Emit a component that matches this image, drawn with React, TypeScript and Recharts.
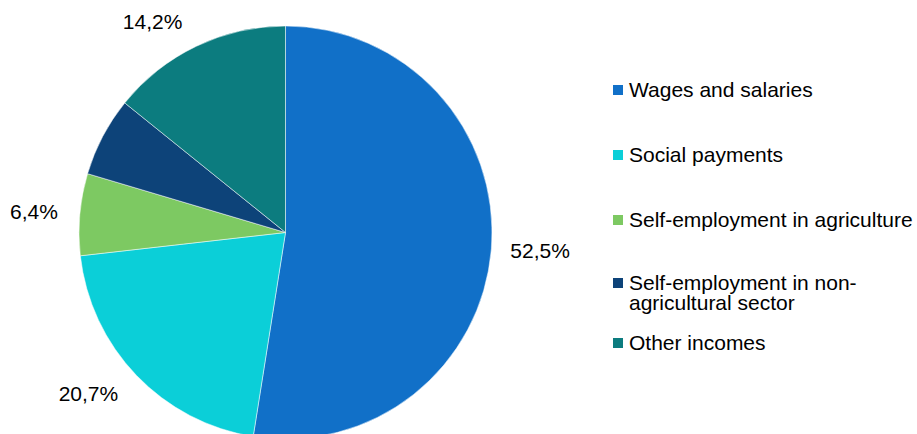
import { PieChart, Pie, Cell, Legend } from "recharts";

const categories = [
  "Wages and salaries",
  "Social payments",
  "Self-employment in agriculture",
  "Self-employment in non-\nagricultural sector",
  "Other incomes",
];
const shares = [52.5, 20.7, 6.4, 6.2, 14.2];
const showLabel = [true, true, true, false, true];
const colors = ["#1170C8", "#0BCFD8", "#7DC962", "#0D4379", "#0C7C7F"];

const data = categories.map((name, i) => ({ name, value: shares[i] }));

const FONT = "'Liberation Sans', Arial, sans-serif";
const RADIAN = Math.PI / 180;

const renderLabel = (props: any) => {
  const { cx, cy, midAngle, outerRadius, index, value } = props;
  if (!showLabel[index]) return null;
  const dx = Math.cos(-midAngle * RADIAN);
  const dy = Math.sin(-midAngle * RADIAN);
  const r = outerRadius + 14;
  const right = dx >= 0;
  const x = cx + r * dx + (right ? 5 : -8);
  const y = cy + r * dy + dy * 13;
  return (
    <text
      x={x}
      y={y}
      textAnchor={right ? "start" : "end"}
      dominantBaseline="central"
      fill="#000"
      fontSize={21}
      fontFamily={FONT}
    >
      {value.toFixed(1).replace(".", ",") + "%"}
    </text>
  );
};

// gap above each legend entry
const legendGaps = [0, 45, 45, 43, 20];

const IncomeLegend = () => (
  <div style={{ fontFamily: FONT, fontSize: 21, lineHeight: "20px", color: "#000" }}>
    {categories.map((name, i) => (
      <div key={name} style={{ display: "flex", marginTop: legendGaps[i] }}>
        <span
          style={{
            width: 10,
            height: 10,
            marginTop: 5,
            marginRight: 6,
            background: colors[i],
            flex: "none",
          }}
        />
        <span style={{ whiteSpace: "pre" }}>{name}</span>
      </div>
    ))}
  </div>
);

export default function App() {
  return (
    <div style={{ position: "absolute", left: 0, top: 0, background: "#fff" }}>
      <PieChart width={917} height={434} margin={{ top: 0, right: 0, bottom: 0, left: 0 }}>
        <Pie
          data={data}
          dataKey="value"
          nameKey="name"
          cx={285.5}
          cy={232.5}
          outerRadius={206.5}
          startAngle={90}
          endAngle={-270}
          stroke="#fff"
          strokeWidth={0.5}
          label={renderLabel}
          labelLine={false}
          isAnimationActive={false}
        >
          {data.map((d, i) => (
            <Cell key={d.name} fill={colors[i]} />
          ))}
        </Pie>
        <Legend
          content={<IncomeLegend />}
          wrapperStyle={{ left: 613, top: 80, width: 304, right: "auto", bottom: "auto" }}
        />
      </PieChart>
    </div>
  );
}
